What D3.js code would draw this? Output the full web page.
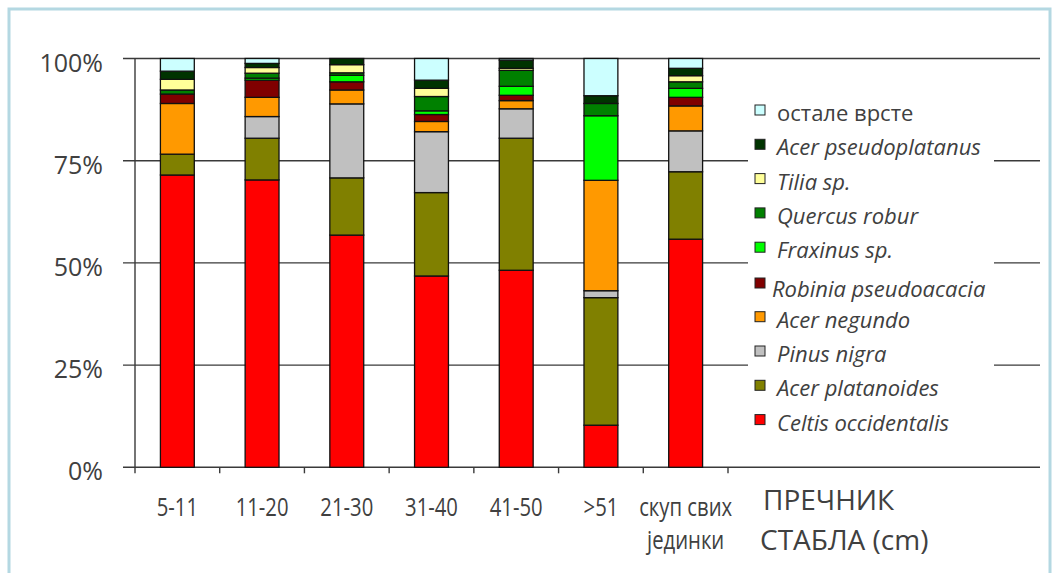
<!DOCTYPE html>
<html>
<head>
<meta charset="utf-8">
<script src="https://cdn.jsdelivr.net/npm/d3@7"></script>
<style>
  html, body { margin: 0; padding: 0; background: #fff; }
  svg { display: block; }
  text { font-family: "Open Sans", "Noto Sans", sans-serif; fill: #404040; }
</style>
</head>
<body>
<svg id="chart" width="1059" height="573"></svg>
<script>
// Diameter classes (cm)
const categories = ["5-11", "11-20", "21-30", "31-40", "41-50", ">51", "скуп свих\nјединки"];

// Species, stacked from the bottom up
const species = [
  "Celtis occidentalis", "Acer platanoides", "Pinus nigra", "Acer negundo",
  "Robinia pseudoacacia", "Fraxinus sp.", "Quercus robur", "Tilia sp.",
  "Acer pseudoplatanus", "остале врсте"
];
const speciesColors = [
  "#FF0000", "#808000", "#C0C0C0", "#FF9900", "#800000",
  "#00FF00", "#008000", "#FFFF99", "#003300", "#CCFFFF"
];
const latinNames = species.map(s => s !== "остале врсте");

// Share (%) of each species per diameter class
const celtis      = [71.5, 70.3, 56.8, 46.8, 48.2, 10.3, 55.8];
const acerPlat    = [ 5.1, 10.2, 14.0, 20.4, 32.3, 31.2, 16.5];
const pinus       = [ 0.0,  5.3, 18.1, 14.9,  7.2,  1.7, 10.0];
const acerNegundo = [12.4,  4.7,  3.4,  2.5,  2.0, 27.0,  6.1];
const robinia     = [ 2.3,  4.2,  2.0,  1.7,  1.3,  0.0,  2.1];
const fraxinus    = [ 0.0,  0.5,  1.6,  0.9,  2.2, 15.8,  2.2];
const quercus     = [ 1.0,  1.2,  0.6,  3.5,  3.9,  3.0,  1.6];
const tilia       = [ 2.6,  1.4,  2.0,  2.0,  0.5,  0.0,  1.5];
const acerPseudo  = [ 2.0,  1.0,  1.5,  2.0,  2.0,  1.9,  1.8];
const ostale      = [ 3.1,  1.2,  0.0,  5.3,  0.4,  9.1,  2.4];

const yTicks = [0, 25, 50, 75, 100];
const axisTitle = ["ПРЕЧНИК", "СТАБЛА (cm)"];

const seriesValues = [celtis, acerPlat, pinus, acerNegundo, robinia, fraxinus, quercus, tilia, acerPseudo, ostale];

const rows = categories.map((c, i) => {
  const r = { cat: c };
  species.forEach((s, k) => { r[s] = seriesValues[k][i]; });
  return r;
});

const svg = d3.select("#chart");

// Outer frame
svg.append("rect")
  .attr("x", 9).attr("y", 9).attr("width", 1041).attr("height", 580)
  .attr("fill", "none").attr("stroke", "#b4d8e2").attr("stroke-width", 3);

const plotLeft = 135, plotRight = 1040, catRight = 728;

const x = d3.scaleBand().domain(categories).range([plotLeft, catRight])
  .paddingInner(0.6).paddingOuter(0.3);
const y = d3.scaleLinear().domain([0, 100]).range([467.3, 58.5]);

const step = x.step();

// Horizontal gridlines with tick stubs
svg.append("g").selectAll("line").data(yTicks).join("line")
  .attr("x1", plotLeft - 12).attr("x2", plotRight)
  .attr("y1", d => y(d)).attr("y2", d => y(d))
  .attr("stroke", "#3a3a3a").attr("stroke-width", 1.4);

// Vertical axis line
svg.append("line")
  .attr("x1", plotLeft).attr("x2", plotLeft)
  .attr("y1", y(100)).attr("y2", y(0) + 6)
  .attr("stroke", "#3a3a3a").attr("stroke-width", 1.4);

// Y tick labels
svg.append("g").selectAll("text").data(yTicks).join("text")
  .attr("x", 103).attr("y", d => y(d) + 4)
  .attr("dy", "0.36em")
  .attr("text-anchor", "end")
  .style("font-size", "25px")
  .text(d => d + "%");

// Category boundary ticks below the axis
const boundaries = categories.map((c, i) => plotLeft + step * (i + 1));
svg.append("g").selectAll("line").data(boundaries).join("line")
  .attr("x1", d => d).attr("x2", d => d)
  .attr("y1", y(0)).attr("y2", y(0) + 6)
  .attr("stroke", "#3a3a3a").attr("stroke-width", 1.4);

// Stacked bars
const stack = d3.stack().keys(species);
const layers = stack(rows);

svg.append("g").selectAll("g").data(layers).join("g")
  .attr("fill", (d, i) => speciesColors[i])
  .selectAll("rect").data(d => d.filter(s => s[1] - s[0] > 0)).join("rect")
  .attr("x", d => x(d.data.cat))
  .attr("width", x.bandwidth())
  .attr("y", d => y(d[1]))
  .attr("height", d => y(d[0]) - y(d[1]))
  .attr("stroke", "#111").attr("stroke-width", 1.3);

// Category labels, set in a narrow face
const narrow = 0.78;
const catLabels = svg.append("g");
categories.forEach(c => {
  const cx = x(c) + x.bandwidth() / 2;
  c.split("\n").forEach((ln, j) => {
    catLabels.append("g")
      .attr("transform", `translate(${cx},${516 + j * 33}) scale(${narrow},1)`)
      .append("text")
      .attr("text-anchor", "middle")
      .style("font-size", "26px")
      .text(ln);
  });
});

// Axis title
const title = svg.append("text").style("font-size", "28px");
axisTitle.forEach((ln, j) => {
  title.append("tspan").attr("x", j === 0 ? 763 : 760).attr("y", 510 + j * 40).text(ln);
});

// Legend (top entry is the top of the stack)
const legend = svg.append("g");
legend.append("rect")
  .attr("x", 748).attr("y", 95).attr("width", 246).attr("height", 343)
  .attr("fill", "#fff");

const legendOrder = species.map((s, i) => i).reverse();
const rowTop = [105, 139.3, 173.6, 207.9, 242.2, 278, 311.7, 346, 380.3, 414.6];
legendOrder.forEach((k, r) => {
  const g = legend.append("g").attr("transform", `translate(755,${rowTop[r]})`);
  const shifted = species[k] === "Robinia pseudoacacia";
  g.append("rect")
    .attr("x", 0).attr("y", 0).attr("width", 10).attr("height", 10)
    .attr("fill", speciesColors[k]).attr("stroke", "#222").attr("stroke-width", 1);
  g.append("text")
    .attr("x", shifted ? 17 : 22).attr("y", shifted ? 19 : 16)
    .style("font-size", "22px")
    .style("font-style", latinNames[k] ? "italic" : "normal")
    .text(species[k]);
});
</script>
</body>
</html>
